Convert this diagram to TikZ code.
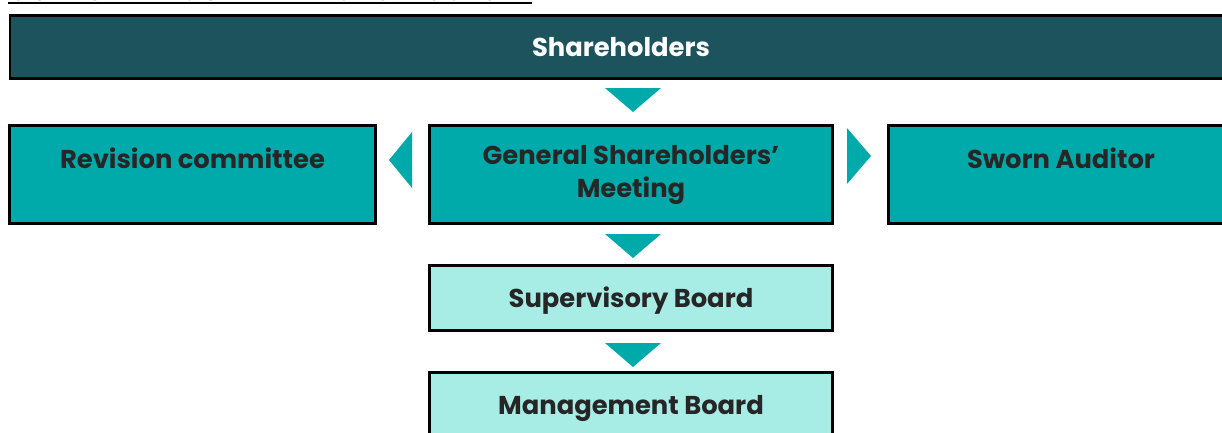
\documentclass[tikz,border=0pt]{standalone}
\usepackage{fontspec}
\setmainfont{Poppins}
\definecolor{shdark}{HTML}{1D535C}
\definecolor{gteal}{HTML}{00AAAA}
\definecolor{lteal}{HTML}{A8ECE6}
\definecolor{ink}{HTML}{262626}
\tikzset{
  govbox/.style={draw=black, line width=2.6pt, inner sep=0pt, align=center,
    font=\fontsize{25.8}{33}\selectfont\bfseries, text=ink},
  topbox/.style={govbox, fill=shdark, text=white},
  mainbox/.style={govbox, fill=gteal, minimum height=98pt},
  boardbox/.style={govbox, fill=lteal, minimum width=403pt, minimum height=65pt,
    text height=19pt, text depth=0pt},
  tri/.style={fill=gteal},
}
\begin{document}
\begin{tikzpicture}[x=1pt,y=-1pt]
  \useasboundingbox (0,0) rectangle (1222,432);
  \clip (0,0) rectangle (1222,432);
  \path (8,0.5) node[anchor=base west, inner sep=0pt,
    font=\fontsize{27}{30}\selectfont\bfseries] (title) {CORPORATE GOVERNANCE STRUCTURE};
  \draw[line width=2pt] ([yshift=-2.5pt]title.base west) -- ([yshift=-2.5pt]title.base east);

  \path (621,47) node[topbox, minimum width=1222pt, minimum height=63pt,
    text height=19pt, text depth=0pt] (share) {Shareholders};
  \path (192.5,174.5) node[mainbox, minimum width=366pt] (rev) {Revision committee\\~};
  \path (631,174.5) node[mainbox, minimum width=403pt] (gsm) {General Shareholders’\\Meeting};
  \path (1061,174.5) node[mainbox, minimum width=345pt] (aud) {Sworn Auditor\\~};
  \path (631,298) node[boardbox] (sup) {Supervisory Board};
  \path (631,405) node[boardbox] (mgmt) {Management Board};

  % pointers
  \fill[tri] (605,88) -- (661,88) -- (633,112) -- cycle;
  \fill[tri] (412,132) -- (412,188) -- (389,160) -- cycle;
  \fill[tri] (847,128) -- (847,184) -- (871,156) -- cycle;
  \fill[tri] (605,234) -- (661,234) -- (633,258) -- cycle;
  \fill[tri] (605,343) -- (661,343) -- (633,367) -- cycle;
\end{tikzpicture}
\end{document}
